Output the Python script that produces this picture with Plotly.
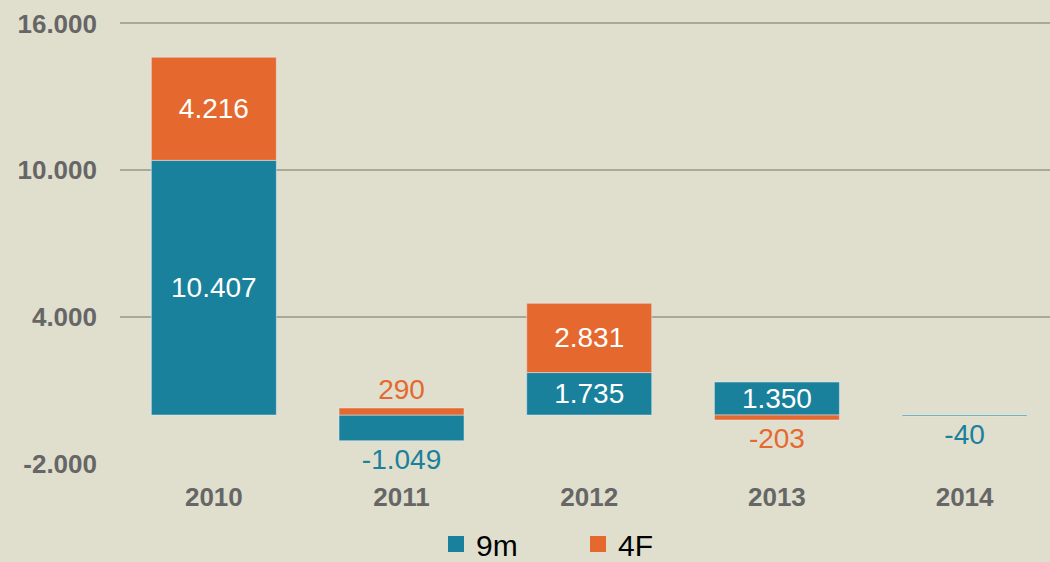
import plotly.graph_objects as go

# --- data ---------------------------------------------------------------
years = ["2010", "2011", "2012", "2013", "2014"]
vals_9m = [10407, -1049, 1735, 1350, -40]
vals_4f = [4216, 290, 2831, -203, None]
pos_9m = ["inside", "outside", "inside", "inside", "outside"]
pos_4f = ["inside", "outside", "inside", "outside", "none"]
y_ticks = [-2000, 4000, 10000, 16000]

TEAL = "#1A819D"
ORANGE = "#E5692E"
BG = "#E0DFCE"
GRID = "#A9A99B"
TICK = "#666666"
FONT = "Arial, Liberation Sans, sans-serif"

Y_RANGE = [-2000, 16960]
X_RANGE = [-0.5, 4.455]


def fmt(v):
    # European thousands separator
    return "" if v is None else f"{v:,}".replace(",", ".")


fig = go.Figure()
for name, vals, pos, color in (("9m", vals_9m, pos_9m, TEAL),
                               ("4F", vals_4f, pos_4f, ORANGE)):
    fig.add_trace(go.Bar(
        x=years, y=vals, name=name, marker_color=color, showlegend=False,
        text=[fmt(v) for v in vals], textposition=pos,
        insidetextfont=dict(color="white", size=28, family=FONT),
        outsidetextfont=dict(color=color, size=28, family=FONT),
        insidetextanchor="middle", cliponaxis=False,
    ))
# legend entries with larger square swatches
for name, color in (("9m", TEAL), ("4F", ORANGE)):
    fig.add_trace(go.Scatter(
        x=[None], y=[None], mode="markers", name=name,
        marker=dict(symbol="square", size=16, color=color),
    ))

# zero axis line with category-boundary ticks
zero_pos = (0 - Y_RANGE[0]) / (Y_RANGE[1] - Y_RANGE[0])

fig.update_layout(
    width=1050, height=562,
    margin=dict(l=120, r=0, t=0, b=98),
    paper_bgcolor=BG, plot_bgcolor=BG,
    font=dict(family=FONT, color=TICK),
    barmode="relative", bargap=0.334,
    uniformtext=dict(minsize=28, mode="show"),
    showlegend=True,
    legend=dict(
        orientation="h", x=(436 - 120) / 930, xanchor="left",
        yref="container", y=(562 - 544) / 562, yanchor="middle",
        itemsizing="trace",
        font=dict(size=30, color="black", family=FONT),
        entrywidth=97, bgcolor="rgba(0,0,0,0)",
    ),
    xaxis=dict(
        range=X_RANGE, showgrid=False, zeroline=False, showline=False,
        tickfont=dict(size=26, color=TICK, family=FONT, weight="bold"),
        ticklabelstandoff=15,
    ),
    xaxis2=dict(
        overlaying="x", anchor="free", position=zero_pos, type="linear",
        range=X_RANGE, showgrid=False, zeroline=False,
        showline=True, linecolor=GRID, linewidth=2,
        ticks="outside", tickvals=[-0.5, 0.5, 1.5, 2.5, 3.5, 4.5],
        ticklen=8, tickwidth=2, tickcolor=GRID, showticklabels=False,
    ),
    yaxis=dict(
        range=Y_RANGE, tickvals=y_ticks,
        ticktext=[fmt(v) for v in y_ticks],
        showgrid=True, gridcolor=GRID, gridwidth=2, zeroline=False,
        tickfont=dict(size=26, color=TICK, family=FONT, weight="bold"),
        ticklabelstandoff=22,
    ),
)

fig.write_html(
    "out.html",
    config={"displayModeBar": False},
    post_script="document.body.style.margin='0';",
)
